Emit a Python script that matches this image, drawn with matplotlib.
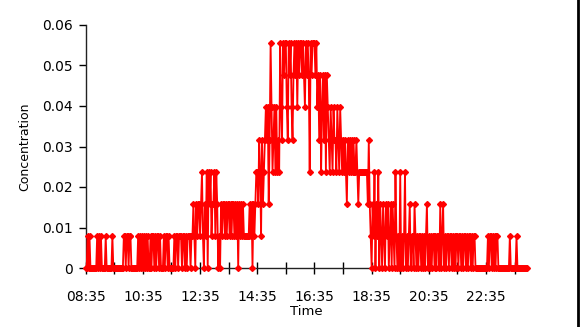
import matplotlib
matplotlib.use("Agg")
import matplotlib.pyplot as plt
from matplotlib.lines import Line2D
import numpy as np

# concentration level (multiples of one step) every 2 minutes, one string per hour from 08:35
hour_levels = [
    "001010000000101010000100000010",  # 08:35
    "000000000011011011000000010101",  # 09:35
    "010101001011010110100010110100",  # 10:35
    "000101101110110101110112102122",  # 11:35
    "123102130323122313201021221212",  # 12:35
    "212122121202121211111121202123",  # 13:35
    "324314234545247534535343754767",  # 14:35
    "754767546767576776765767637677",  # 15:35
    "767564635646365435435443543543",  # 16:35
    "434324343434334323333333332421",  # 17:35
    "021302130210210212012021031010",  # 18:35
    "301013010120110210101101010120",  # 19:35
    "101011010110201201011011010101",  # 20:35
    "101101011010110101100000000000",  # 21:35
    "001011010101100000000000010000",  # 22:35
    "00100000000000",                  # 23:35
]
level_step = 0.00793
sample_minutes = 2

tick_minutes = list(range(0, 901, 60))
tick_labels = ["08:35", "", "10:35", "", "12:35", "", "14:35", "", "16:35", "",
               "18:35", "", "20:35", "", "22:35", ""]
y_ticks = [0, 0.01, 0.02, 0.03, 0.04, 0.05, 0.06]
y_labels = ["0", "0.01", "0.02", "0.03", "0.04", "0.05", "0.06"]

levels = np.array([int(c) for s in hour_levels for c in s])
conc = levels * level_step
minutes = np.arange(len(levels)) * sample_minutes

fig = plt.figure(figsize=(5.8, 3.27), dpi=100)
ax = fig.add_axes([85.7 / 580, 1 - 268 / 327, (527 - 85.7) / 580, 243 / 327])

ax.plot(minutes, conc, color="#ff0000", linewidth=1.3, marker="D",
        markersize=3, clip_on=False, zorder=3)

ax.set_xlim(0, minutes[-1])
ax.set_ylim(0, 0.06)
ax.set_xticks(tick_minutes)
ax.set_xticklabels(tick_labels, fontsize=10)
ax.set_yticks(y_ticks)
ax.set_yticklabels(y_labels, fontsize=10)
ax.tick_params(axis="x", direction="inout", length=9, width=1, pad=11)
ax.tick_params(axis="y", direction="out", length=5, width=1, pad=4)

for side in ["top", "right"]:
    ax.spines[side].set_visible(False)
for side in ["left", "bottom"]:
    ax.spines[side].set_linewidth(1)
    ax.spines[side].set_color("#222222")

ax.set_xlabel("Time", fontsize=9.5, labelpad=1)
ax.set_ylabel("Concentration", fontsize=9, labelpad=8)

# right edge frame line
fig.add_artist(Line2D([577.5 / 580, 577.5 / 580], [0, 1], color="black", linewidth=2))

fig.savefig("out.png", dpi=100)
